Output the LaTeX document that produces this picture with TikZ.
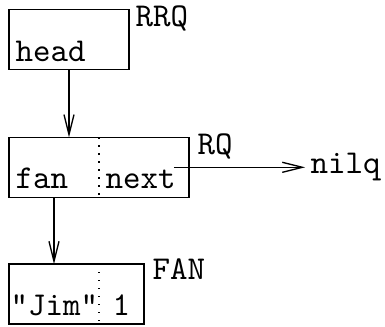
\documentclass[tikz,border=0pt]{standalone}
\usetikzlibrary{arrows.meta,calc}

\tikzset{
  cell/.style={draw, line width=0.4pt, minimum width=#1, minimum height=18pt, anchor=north west, inner sep=0pt, outer sep=0pt},
  field/.style={font=\ttfamily, anchor=base west, inner sep=0pt},
  tag/.style={font=\ttfamily, anchor=base west, inner sep=0pt},
  ptr/.style={line width=0.4pt, -{Straight Barb[length=6pt,width=3pt]}}
}

\begin{document}
\begin{tikzpicture}[x=0.3pt,y=0.3pt]
                    \useasboundingbox (0,0) rectangle (385,326);

                    \node[cell=36pt] (rrq) at (9,316.5) {};
                    \node[cell=54pt] (rq) at (9,188.7) {};
                    \node[cell=40.5pt] (fan) at (9,62) {};

                    \draw[dotted] ($(rq.north west)!0.5!(rq.north east)$) -- ($(rq.south west)!0.5!(rq.south east)$);
                    \draw[dotted] ($(fan.north west)!0.6667!(fan.north east)$) -- ($(fan.south west)!0.6667!(fan.south east)$);

                    \node[tag] (rrqname) at ($(rrq.north east)+(6,-16.5)$) {RRQ};
                    \node[tag] (rqname) at ($(rq.north east)+(8,-17)$) {RQ};
                    \node[tag] (fanname) at ($(fan.north east)+(8,-15.5)$) {FAN};

                    \node[field] (head) at ($(rrq.south west)+(6,8)$) {head};
                    \node[field] (fanfield) at ($(rq.south west)+(6,8.4)$) {fan};
                    \node[field] (next) at ($(rq.south)+(6,8.4)$) {next};
                    \node[field] (jim) at ($(fan.south west)+(1,9)$) {"Jim"};
                    \node[field, anchor=base] (one) at ($(fan.south east)+(-22.5,9)$) {1};
                    \node[tag, inner xsep=1.5pt] (nilq) at (305,153) {nilq};

                    \coordinate (fanptr) at ($(rq.south west)!0.25!(rq.south east)$);
                    \coordinate (nextptr) at ($(rq.east)+(-15,0)$);

                    \draw[ptr] (rrq.south) -- (rrq.south |- rq.north);
                    \draw[ptr] (fanptr) -- (fanptr |- fan.north);
                    \draw[ptr] (nextptr) -- (nextptr -| nilq.west);

\end{tikzpicture}
\end{document}
